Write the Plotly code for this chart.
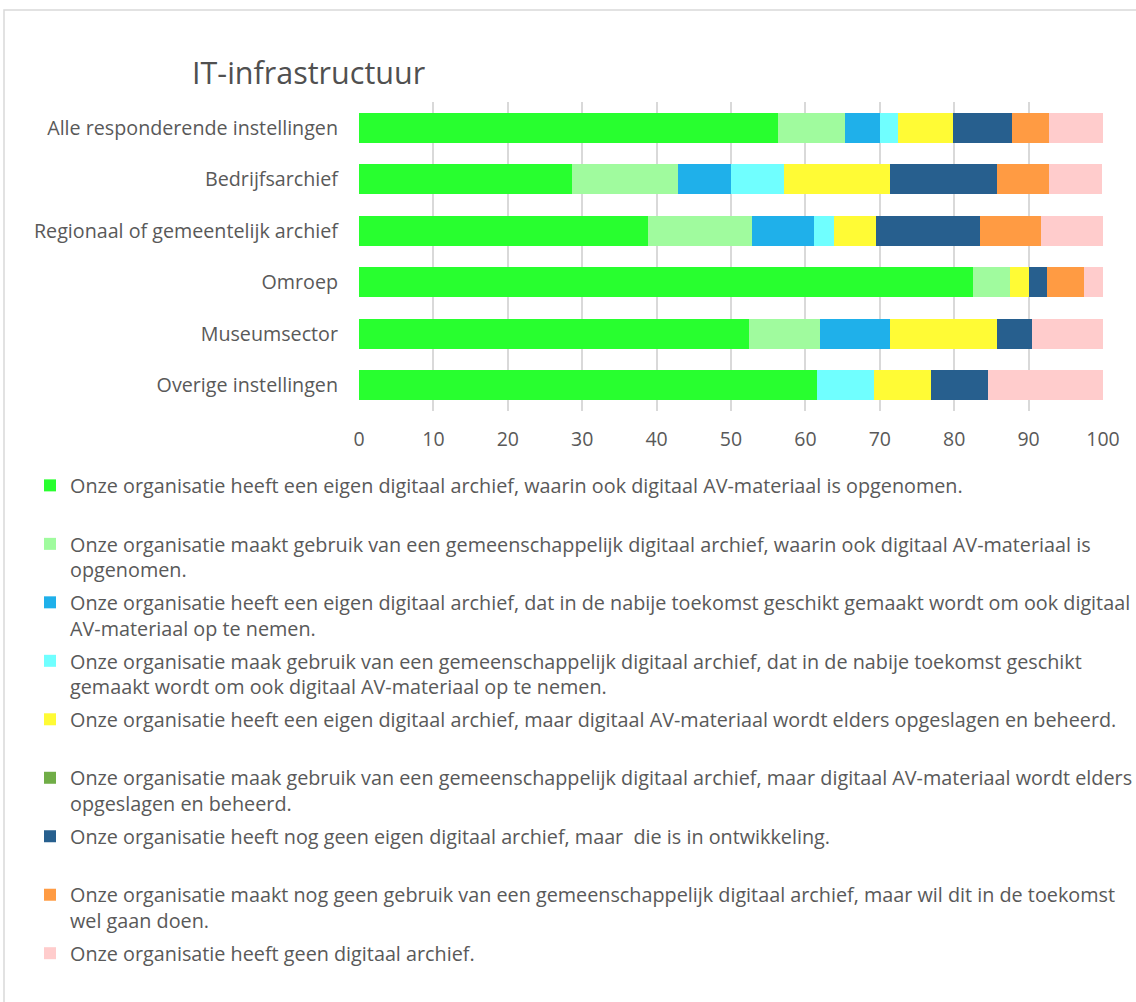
import plotly.graph_objects as go

categories = [
    "Alle responderende instellingen",
    "Bedrijfsarchief",
    "Regionaal of gemeentelijk archief",
    "Omroep",
    "Museumsector",
    "Overige instellingen",
]

series_names = [
    "Onze organisatie heeft een eigen digitaal archief, waarin ook digitaal AV-materiaal is opgenomen.<br> ",
    "Onze organisatie maakt gebruik van een gemeenschappelijk digitaal archief, waarin ook digitaal AV-materiaal is<br>opgenomen.",
    "Onze organisatie heeft een eigen digitaal archief, dat in de nabije toekomst geschikt gemaakt wordt om ook digitaal<br>AV-materiaal op te nemen.",
    "Onze organisatie maak gebruik van een gemeenschappelijk digitaal archief, dat in de nabije toekomst geschikt<br>gemaakt wordt om ook digitaal AV-materiaal op te nemen.",
    "Onze organisatie heeft een eigen digitaal archief, maar digitaal AV-materiaal wordt elders opgeslagen en beheerd.<br> ",
    "Onze organisatie maak gebruik van een gemeenschappelijk digitaal archief, maar digitaal AV-materiaal wordt elders<br>opgeslagen en beheerd.",
    "Onze organisatie heeft nog geen eigen digitaal archief, maar  die is in ontwikkeling.<br> ",
    "Onze organisatie maakt nog geen gebruik van een gemeenschappelijk digitaal archief, maar wil dit in de toekomst<br>wel gaan doen.",
    "Onze organisatie heeft geen digitaal archief.<br> ",
]

eigen_met_av = [56.3, 28.6, 38.9, 82.5, 52.4, 61.5]
gemeensch_met_av = [9.0, 14.3, 13.9, 5.0, 9.5, 0.0]
eigen_toekomst = [4.7, 7.1, 8.3, 0.0, 9.5, 0.0]
gemeensch_toekomst = [2.5, 7.1, 2.8, 0.0, 0.0, 7.7]
eigen_elders = [7.4, 14.3, 5.6, 2.5, 14.3, 7.7]
gemeensch_elders = [0.0, 0.0, 0.0, 0.0, 0.0, 0.0]
eigen_in_ontwikkeling = [7.9, 14.3, 13.9, 2.5, 4.8, 7.7]
gemeensch_wil = [4.9, 7.1, 8.3, 5.0, 0.0, 0.0]
geen_archief = [7.3, 7.1, 8.3, 2.5, 9.5, 15.4]

series_values = [
    eigen_met_av, gemeensch_met_av, eigen_toekomst, gemeensch_toekomst,
    eigen_elders, gemeensch_elders, eigen_in_ontwikkeling, gemeensch_wil, geen_archief,
]

colors = ["#28FF2F", "#A0FB9E", "#1FB0EA", "#70FFFF", "#FFFB35",
          "#70AD47", "#275F8E", "#FF9B43", "#FFCCCC"]

x_ticks = [0, 10, 20, 30, 40, 50, 60, 70, 80, 90, 100]

FONT = "Open Sans"
GREY = "#595959"

fig = go.Figure()
for i, (name, vals, col) in enumerate(zip(series_names, series_values, colors)):
    fig.add_trace(go.Bar(
        y=categories, x=vals, name=name, orientation="h",
        marker=dict(color=col, line=dict(width=0)),
        legendgroup=f"g{i}",
    ))

W, H = 1136, 1002
L, R, T, B = 359, 33, 102, 591

fig.update_layout(
    width=W, height=H,
    barmode="stack", bargap=0.42,
    paper_bgcolor="white", plot_bgcolor="white",
    margin=dict(l=L, r=R, t=T, b=B, autoexpand=False),
    font=dict(family=FONT, color=GREY, size=19.7),
    title=dict(text="IT-infrastructuur", x=192 / W, xanchor="left", xref="container",
               y=1 - 73 / H, yanchor="middle", yref="container",
               font=dict(family=FONT, size=30.5, color="#505050")),
    xaxis=dict(range=[0, 100], tickvals=x_ticks, showgrid=True, gridcolor="#D9D9D9",
               gridwidth=1.5, zeroline=False, showline=False, ticks="",
               tickfont=dict(size=19.5, color=GREY), ticklabelstandoff=14, fixedrange=True),
    yaxis=dict(categoryorder="array", categoryarray=categories, autorange="reversed",
               showgrid=False, ticks="", showline=False,
               tickfont=dict(size=19.7, color=GREY), ticklabelstandoff=20, fixedrange=True),
    showlegend=True,
    legend=dict(xref="container", yref="container", x=30 / W, y=1 - 466 / H,
                xanchor="left", yanchor="top", valign="top",
                traceorder="grouped", tracegroupgap=4, maxheight=900,
                font=dict(size=19.8, color=GREY, family=FONT),
                bgcolor="rgba(0,0,0,0)", itemclick=False, itemdoubleclick=False),
)

# outer chart border
fig.add_shape(type="rect", xref="paper", yref="paper",
              x0=(4 - L) / (W - L - R), x1=(1145 - L) / (W - L - R),
              y0=(H - B - 1012) / (H - T - B), y1=(H - B - 10) / (H - T - B),
              line=dict(color="#D9D9D9", width=1.5), fillcolor="rgba(0,0,0,0)", layer="below")

fig.write_html("out.html", config={"displayModeBar": False},
               post_script="document.body.style.margin='0';")
